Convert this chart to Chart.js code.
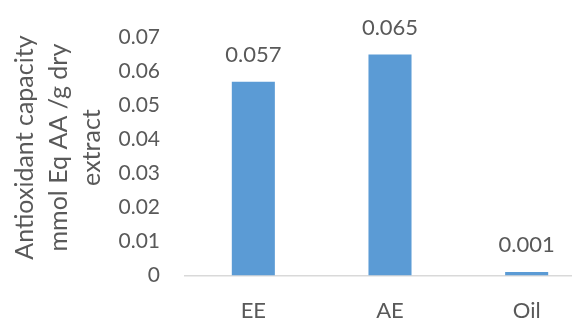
<!DOCTYPE html>
<html>
<head>
<meta charset="utf-8">
<script src="https://cdn.jsdelivr.net/npm/chart.js@4"></script>
<style>
  html, body { margin: 0; padding: 0; background: #fff; overflow: hidden; }
  #wrap { position: relative; width: 600px; height: 322px; }
</style>
</head>
<body>
<div id="wrap"><canvas id="chart"></canvas></div>
<script>
const categories = ['EE', 'AE', 'Oil'];
const capacity = [0.057, 0.065, 0.001];
const valueLabels = ['0.057', '0.065', '0.001'];
const yTitle = ['Antioxidant capacity', 'mmol Eq AA /g dry', 'extract'];

const textColor = '#595959';
const fontFamily = 'Lato, Calibri, sans-serif';

// value labels above each bar
const barLabels = {
  id: 'barLabels',
  afterDatasetsDraw(chart) {
    const ctx = chart.ctx;
    const meta = chart.getDatasetMeta(0);
    ctx.save();
    ctx.fillStyle = textColor;
    ctx.font = '22px ' + fontFamily;
    ctx.textAlign = 'center';
    ctx.textBaseline = 'alphabetic';
    meta.data.forEach((bar, i) => {
      ctx.fillText(valueLabels[i], bar.x, bar.y - 20);
    });
    ctx.restore();
  }
};

// rotated three-line axis title, a little above the plot centre
const axisTitle = {
  id: 'axisTitle',
  afterDraw(chart) {
    const ctx = chart.ctx;
    const area = chart.chartArea;
    const cy = (area.top + area.bottom) / 2 - 9;
    ctx.save();
    ctx.fillStyle = textColor;
    ctx.font = '25px ' + fontFamily;
    ctx.textAlign = 'center';
    ctx.textBaseline = 'middle';
    yTitle.forEach((line, i) => {
      ctx.save();
      ctx.translate(25 + i * 33.5, cy);
      ctx.rotate(-Math.PI / 2);
      ctx.fillText(line, 0, 0);
      ctx.restore();
    });
    ctx.restore();
  }
};

new Chart(document.getElementById('chart').getContext('2d'), {
  type: 'bar',
  data: {
    labels: categories,
    datasets: [{
      data: capacity,
      backgroundColor: '#5b9bd5',
      borderWidth: 0,
      barPercentage: 1,
      categoryPercentage: 0.315
    }]
  },
  options: {
    responsive: true,
    maintainAspectRatio: false,
    animation: false,
    layout: { padding: { top: 32, right: 5, left: 0, bottom: 0 } },
    plugins: {
      legend: { display: false },
      tooltip: { enabled: false }
    },
    scales: {
      x: {
        grid: { display: false, drawTicks: false },
        border: { display: true, color: '#d9d9d9', width: 1.5 },
        afterFit(scale) { scale.height = 46.5; },
        ticks: { color: textColor, font: { family: fontFamily, size: 22 }, padding: 22 }
      },
      y: {
        min: 0,
        max: 0.07,
        grid: { display: false, drawTicks: false },
        border: { display: false },
        afterFit(scale) { scale.width = 185; },
        ticks: {
          stepSize: 0.01,
          color: textColor,
          padding: 25,
          font: { family: fontFamily, size: 21 },
          callback: (v) => Number(v.toFixed(2)).toString()
        }
      }
    }
  },
  plugins: [barLabels, axisTitle]
});
</script>
</body>
</html>
